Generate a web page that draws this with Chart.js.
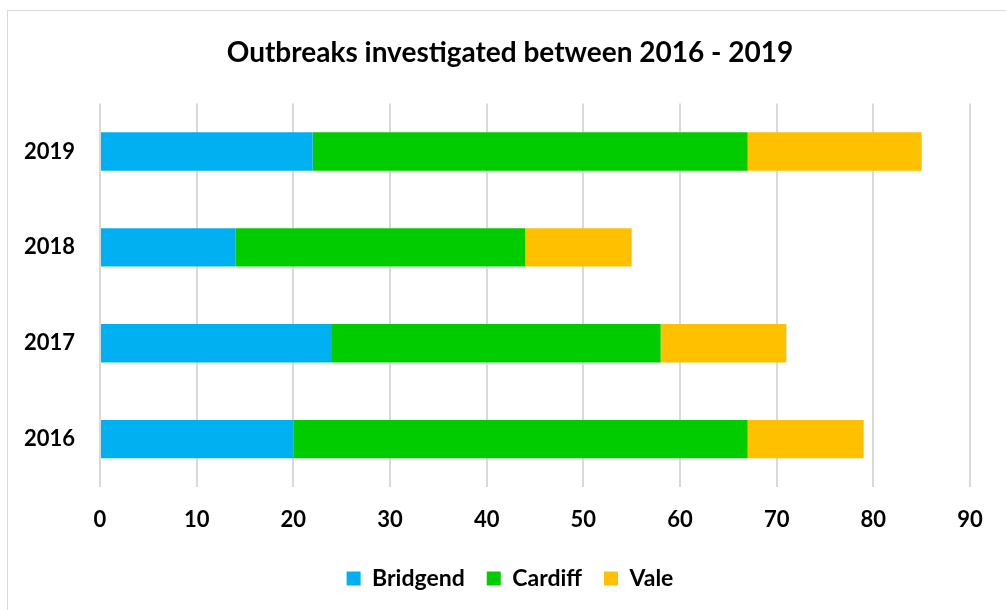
<!DOCTYPE html>
<html>
<head>
<meta charset="utf-8">
<script src="https://cdn.jsdelivr.net/npm/chart.js@4/dist/chart.umd.min.js"></script>
<style>
  html, body { margin: 0; padding: 0; background: #fff; overflow: hidden; }
  #frame {
    position: absolute; left: 7px; top: 10px;
    width: 1010px; height: 610px;
    border: 1px solid #d9d9d9; background: #fff;
  }
  #chart { display: block; }
</style>
</head>
<body>
<div id="frame"><canvas id="chart" width="1004" height="589"></canvas></div>
<script>
// Outbreaks per area, stacked by year
const years = ["2019", "2018", "2017", "2016"];
const bridgend = [22, 14, 24, 20];
const cardiff = [45, 30, 34, 47];
const vale = [18, 11, 13, 12];
const xTicks = [0, 10, 20, 30, 40, 50, 60, 70, 80, 90];

const FONT = "Lato, 'Open Sans', sans-serif";

function series(label, data, color) {
  return {
    label: label,
    data: data,
    backgroundColor: color,
    borderWidth: 0,
    barPercentage: 0.4,
    categoryPercentage: 1.0
  };
}

new Chart(document.getElementById("chart"), {
  type: "bar",
  data: {
    labels: years,
    datasets: [
      series("Bridgend", bridgend, "#00b0f0"),
      series("Cardiff", cardiff, "#00cc00"),
      series("Vale", vale, "#ffc000")
    ]
  },
  options: {
    indexAxis: "y",
    responsive: false,
    animation: false,
    plugins: {
      tooltip: { enabled: false },
      title: {
        display: true,
        text: "Outbreaks investigated between 2016 - 2019",
        color: "#000",
        font: { family: FONT, size: 28, weight: "bold" },
        padding: { top: 25, bottom: 34 }
      },
      legend: {
        position: "bottom",
        labels: {
          color: "#000",
          font: { family: FONT, size: 23, weight: "bold" },
          boxWidth: 14,
          boxHeight: 14,
          padding: 22
        }
      }
    },
    scales: {
      x: {
        stacked: true,
        min: 0,
        max: 90,
        afterBuildTicks: axis => { axis.ticks = xTicks.map(v => ({ value: v })); },
        afterFit: axis => { axis.height = 58; },
        grid: { color: "#d9d9d9", lineWidth: 2, drawTicks: false },
        border: { display: false },
        ticks: {
          color: "#000",
          padding: 20,
          font: { family: FONT, size: 22, weight: "bold" }
        }
      },
      y: {
        stacked: true,
        afterFit: axis => { axis.width = 92; },
        grid: { display: false },
        border: { display: false },
        ticks: {
          color: "#000",
          padding: 17,
          font: { family: FONT, size: 22, weight: "bold" }
        }
      },
      // empty right-hand margin so the plot stops short of the frame
      yRight: {
        position: "right",
        afterFit: axis => { axis.width = 42; },
        grid: { display: false },
        border: { display: false },
        ticks: { display: false }
      }
    }
  }
});
</script>
</body>
</html>
